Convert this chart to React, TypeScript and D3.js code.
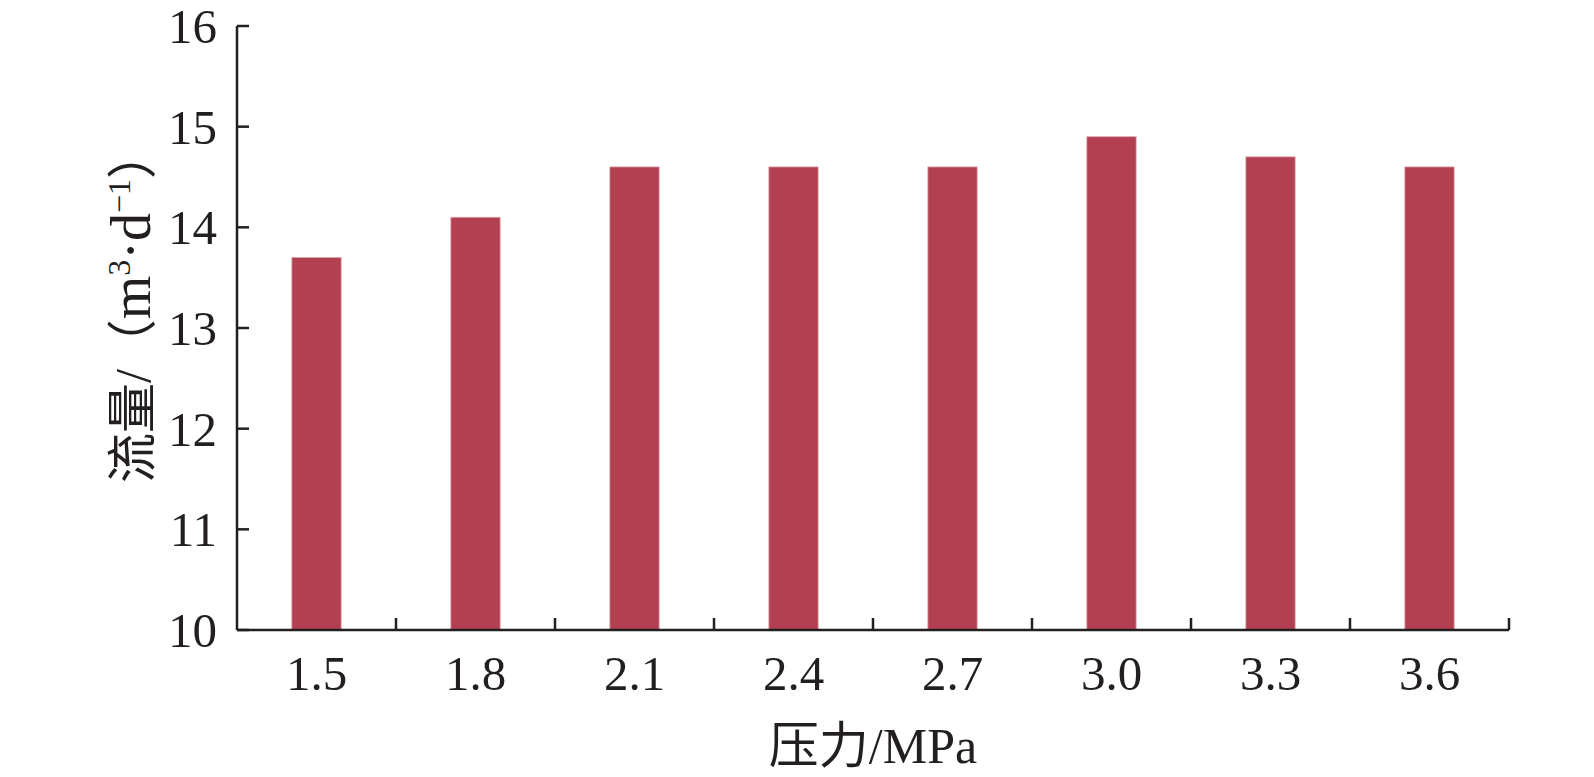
import React from "react";
import * as d3 from "d3";

const categories = ["1.5", "1.8", "2.1", "2.4", "2.7", "3.0", "3.3", "3.6"];
const values = [13.7, 14.1, 14.6, 14.6, 14.6, 14.9, 14.7, 14.6];
const yTicks = [10, 11, 12, 13, 14, 15, 16];

const W = 1594;
const H = 777;
const left = 237;
const right = 1509;
const top = 26;
const bottom = 630;
const FONT = "'Liberation Serif', 'Times New Roman', 'Noto Sans CJK SC', serif";

export default function App() {
  const x = d3.scaleBand<string>().domain(categories).range([left, right]).paddingInner(0).paddingOuter(0);
  const y = d3.scaleLinear().domain([10, 16]).range([bottom, top]);
  const bw = x.bandwidth() * 0.31;
  const boundaries = categories.map((c) => (x(c) as number) + x.bandwidth());

  return (
    <svg width={W} height={H} style={{ position: "absolute", left: 0, top: 0 }} fontFamily={FONT}>
      <rect x={0} y={0} width={W} height={H} fill="#fff" />
      {categories.map((c, i) => (
        <rect
          key={c}
          x={(x(c) as number) + x.bandwidth() / 2 - bw / 2}
          y={y(values[i])}
          width={bw}
          height={y(10) - y(values[i])}
          fill="#b24050"
          stroke="#e0a0aa"
          strokeWidth={0.8}
        />
      ))}
      <line x1={left} x2={left} y1={top} y2={bottom} stroke="#231f20" strokeWidth={2.5} />
      <line x1={left} x2={right} y1={bottom} y2={bottom} stroke="#231f20" strokeWidth={2.5} />
      {yTicks.map((t) => (
        <g key={t}>
          <line x1={left} x2={left + 12} y1={y(t)} y2={y(t)} stroke="#231f20" strokeWidth={2.5} />
          <text x={217} y={y(t)} dy="0.35em" textAnchor="end" fontSize={49} fill="#231f20">
            {t}
          </text>
        </g>
      ))}
      {boundaries.map((b, i) => (
        <line key={i} x1={b} x2={b} y1={bottom} y2={bottom - 12} stroke="#231f20" strokeWidth={2.5} />
      ))}
      {categories.map((c) => (
        <text key={c} x={(x(c) as number) + x.bandwidth() / 2} y={690} textAnchor="middle" fontSize={49} fill="#231f20">
          {c}
        </text>
      ))}
      <text x={(left + right) / 2} y={763} textAnchor="middle" fontSize={50} fill="#231f20">
        压力/MPa
      </text>
      <text
        transform={`translate(150, 306) rotate(-90)`}
        textAnchor="middle"
        fontSize={50}
        fill="#231f20"
      >
        流量/（
        <tspan fontSize={56}>m</tspan>
        <tspan fontSize={32} dy={-20}>3</tspan>
        <tspan fontSize={56} dy={20}>·d</tspan>
        <tspan fontSize={32} dy={-20}>−1</tspan>
        <tspan dy={20}>）</tspan>
      </text>
    </svg>
  );
}
